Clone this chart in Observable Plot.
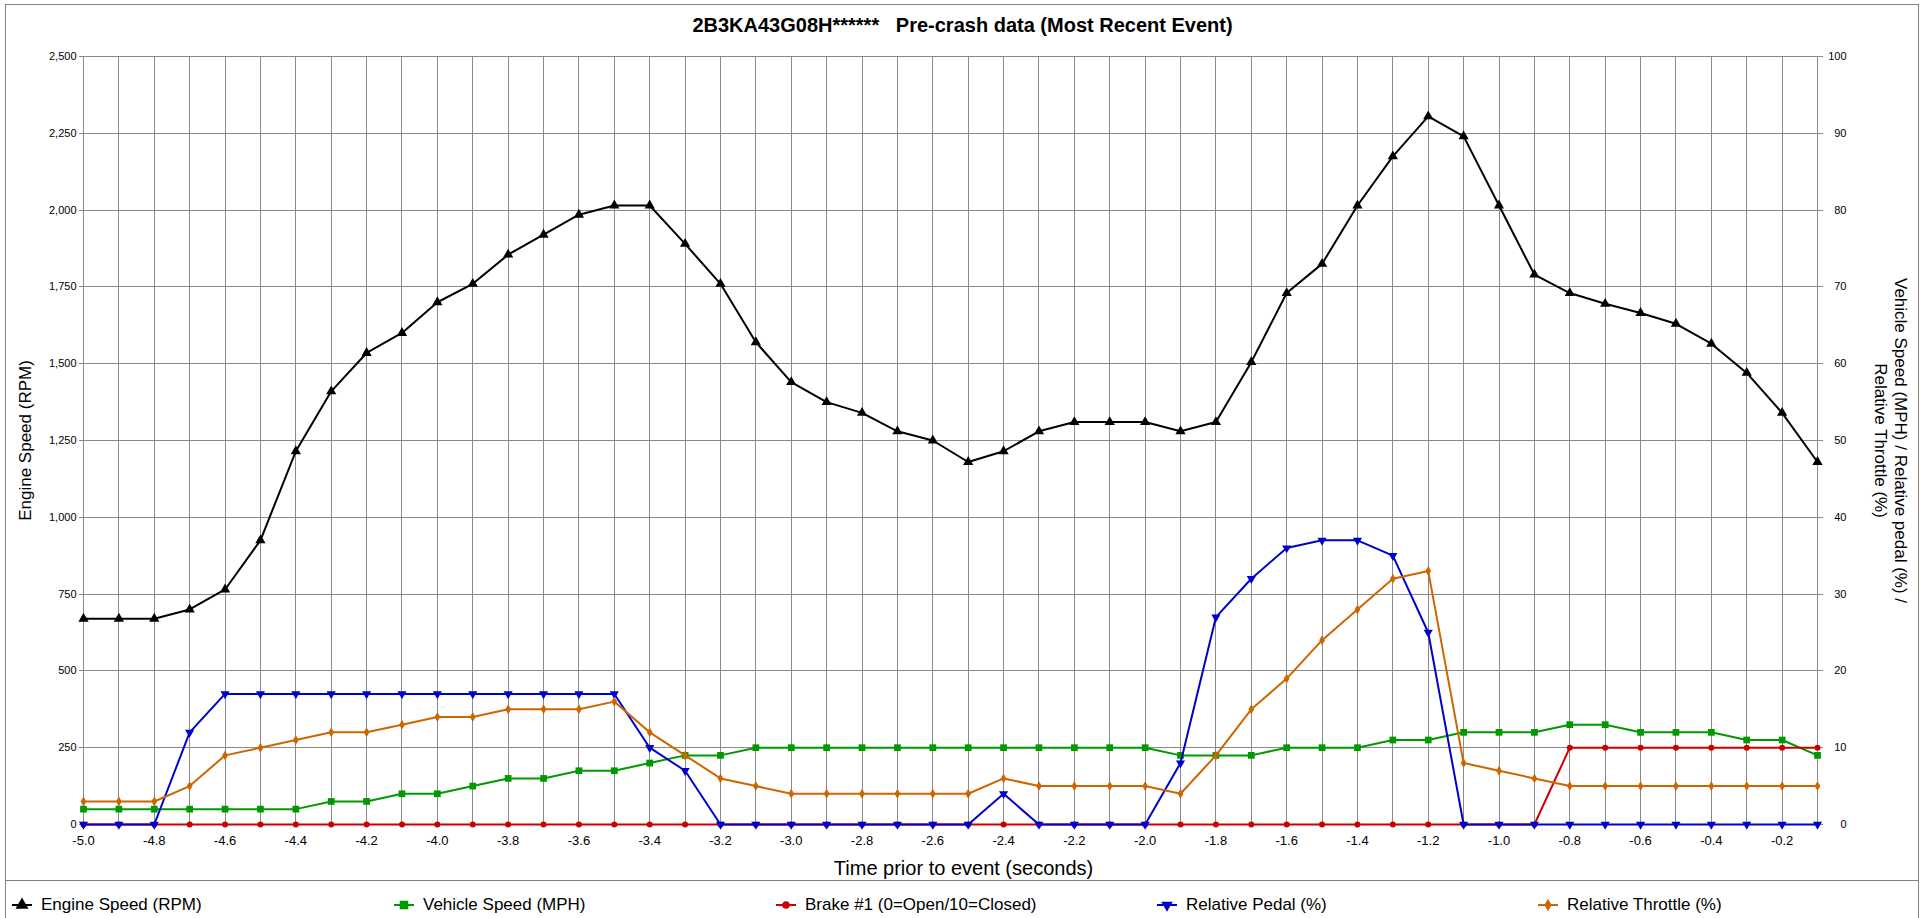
<!DOCTYPE html>
<html><head><meta charset="utf-8">
<script src="https://cdn.jsdelivr.net/npm/d3@7"></script>
<script src="https://cdn.jsdelivr.net/npm/@observablehq/plot@0.6"></script>
<style>
body{margin:0;background:#fff;}
#wrap{position:relative;width:1925px;height:918px;overflow:hidden;font-family:"Liberation Sans",Arial,sans-serif;color:#000;}
#border{position:absolute;left:5px;top:4px;width:1912px;height:960px;border:1px solid #808080;}
#title{position:absolute;left:0;top:13px;width:1925px;text-align:center;font-weight:bold;font-size:20px;line-height:24px;white-space:pre;}
.plot{position:absolute;left:0;top:46px;}
#sep{position:absolute;left:5px;top:880px;width:1913px;height:0;border-top:1px solid #808080;}
.leg{position:absolute;top:895px;height:20px;display:flex;align-items:center;font-size:17px;line-height:20px;white-space:nowrap;}
.leg svg{margin-right:9px;}
</style>
</head><body>
<div id="wrap">
  <div id="border"></div>
  <div id="title">2B3KA43G08H******   Pre-crash data (Most Recent Event)</div>
  <div id="p1" class="plot"></div>
  <div id="p2" class="plot"></div>
  <div id="sep"></div>
  <div id="legend"></div>
</div>
<script>
// ---------- data ----------
const times = [-5.0,-4.9,-4.8,-4.7,-4.6,-4.5,-4.4,-4.3,-4.2,-4.1,
               -4.0,-3.9,-3.8,-3.7,-3.6,-3.5,-3.4,-3.3,-3.2,-3.1,
               -3.0,-2.9,-2.8,-2.7,-2.6,-2.5,-2.4,-2.3,-2.2,-2.1,
               -2.0,-1.9,-1.8,-1.7,-1.6,-1.5,-1.4,-1.3,-1.2,-1.1,
               -1.0,-0.9,-0.8,-0.7,-0.6,-0.5,-0.4,-0.3,-0.2,-0.1];
const engineRpm = [670,670,670,700,765,925,1215,1410,1535,1600,
                   1700,1760,1855,1920,1985,2015,2015,1890,1760,1570,
                   1440,1375,1340,1280,1250,1180,1215,1280,1310,1310,
                   1310,1280,1310,1505,1730,1825,2015,2175,2305,2240,
                   2015,1790,1730,1695,1665,1630,1565,1470,1340,1180];
const vehicleMph = [2,2,2,2,2,2,2,3,3,4,
                    4,5,6,6,7,7,8,9,9,10,
                    10,10,10,10,10,10,10,10,10,10,
                    10,9,9,9,10,10,10,11,11,12,
                    12,12,13,13,12,12,12,11,11,9];
const brake = [0,0,0,0,0,0,0,0,0,0,
               0,0,0,0,0,0,0,0,0,0,
               0,0,0,0,0,0,0,0,0,0,
               0,0,0,0,0,0,0,0,0,0,
               0,0,10,10,10,10,10,10,10,10];
const pedal = [0,0,0,12,17,17,17,17,17,17,
               17,17,17,17,17,17,10,7,0,0,
               0,0,0,0,0,0,4,0,0,0,
               0,8,27,32,36,37,37,35,25,0,
               0,0,0,0,0,0,0,0,0,0];
const throttle = [3,3,3,5,9,10,11,12,12,13,
                  14,14,15,15,15,16,12,9,6,5,
                  4,4,4,4,4,4,6,5,5,5,
                  5,4,9,15,19,24,28,32,33,8,
                  7,6,5,5,5,5,5,5,5,5];
const xTicks = [-5.0,-4.8,-4.6,-4.4,-4.2,-4.0,-3.8,-3.6,-3.4,-3.2,-3.0,-2.8,-2.6,-2.4,-2.2,-2.0,-1.8,-1.6,-1.4,-1.2,-1.0,-0.8,-0.6,-0.4,-0.2];
const leftTicks = [0,250,500,750,1000,1250,1500,1750,2000,2250,2500];
const rightTicks = [0,10,20,30,40,50,60,70,80,90,100];
const seriesNames = ["Engine Speed (RPM)","Vehicle Speed (MPH)","Brake #1 (0=Open/10=Closed)","Relative Pedal (%)","Relative Throttle (%)"];
const seriesColors = ["#000000","#009900","#cc0000","#0000cc","#cc6600"];

// ---------- layout ----------
const W = 1925, H = 834, mL = 83, mR = 108, mT = 10, mB = 56;
const FONT = '"Liberation Sans", Arial, sans-serif';
const baseStyle = {fontFamily: FONT, background: "transparent", overflow: "visible", color: "#000", fontSize: "11px"};
const GRID = "#8a8a8a";

const triDown = {draw(ctx, size){
  const y = Math.sqrt(size / (Math.sqrt(3) * 3));
  ctx.moveTo(0, y * 2); ctx.lineTo(-Math.sqrt(3) * y, -y); ctx.lineTo(Math.sqrt(3) * y, -y); ctx.closePath();
}};
const symbols = ["triangle","square","circle",triDown,"diamond"];
const radii = [3.8,3.8,3,3.4,3];

const p1 = Plot.plot({
  width: W, height: H, marginLeft: mL, marginRight: mR, marginTop: mT, marginBottom: mB,
  style: baseStyle,
  x: {domain: [-5.0, -0.1]},
  y: {domain: [0, 2500]},
  marks: [
    Plot.gridX(times, {stroke: GRID, strokeOpacity: 1, strokeWidth: 1, shapeRendering: "crispEdges"}),
    Plot.gridY(leftTicks, {stroke: GRID, strokeOpacity: 1, strokeWidth: 1, shapeRendering: "crispEdges"}),
    Plot.axisY(leftTicks, {anchor: "left", tickSize: 4, stroke: GRID, tickFormat: () => "", label: null, shapeRendering: "crispEdges"}),
    Plot.axisY(leftTicks, {anchor: "left", tickSize: 0, tickPadding: 7, tickFormat: d3.format(","), label: null, fontSize: 11, fill: "#000"}),
    Plot.axisX(xTicks, {anchor: "bottom", tickSize: 0, tickPadding: 11, tickFormat: d => d.toFixed(1), label: null, fontSize: 13, fill: "#000"}),
    Plot.text(["Time prior to event (seconds)"], {frameAnchor: "bottom", dy: 44, dx: 13, fontSize: 20, textAnchor: "middle", lineAnchor: "middle", fill: "#000"}),
    Plot.text(["Engine Speed (RPM)"], {frameAnchor: "left", dx: -58, rotate: -90, fontSize: 17, textAnchor: "middle", lineAnchor: "middle", fill: "#000"}),
    Plot.text(["Vehicle Speed (MPH) / Relative pedal (%) /"], {frameAnchor: "right", dx: 83, rotate: 90, fontSize: 17, textAnchor: "middle", lineAnchor: "middle", fill: "#000"}),
    Plot.text(["Relative Throttle (%)"], {frameAnchor: "right", dx: 63, rotate: 90, fontSize: 17, textAnchor: "middle", lineAnchor: "middle", fill: "#000"}),
    Plot.line(times, {x: times, y: engineRpm, stroke: seriesColors[0], strokeWidth: 2}),
    Plot.dot(times, {x: times, y: engineRpm, symbol: symbols[0], r: radii[0], fill: seriesColors[0], stroke: "none"})
  ]
});
document.getElementById("p1").append(p1);

const right = [vehicleMph, brake, pedal, throttle];
const marks2 = [
  Plot.axisY(rightTicks, {anchor: "right", tickSize: 5, stroke: GRID, tickFormat: () => "", label: null, shapeRendering: "crispEdges"}),
  Plot.axisY(rightTicks, {anchor: "right", tickSize: 0, tickPadding: 29, textAnchor: "end", tickFormat: d => String(d), label: null, fontSize: 11, fill: "#000"})
];
right.forEach((vals, k) => {
  const i = k + 1;
  marks2.push(Plot.line(times, {x: times, y: vals, stroke: seriesColors[i], strokeWidth: 2}));
  marks2.push(Plot.dot(times, {x: times, y: vals, symbol: symbols[i], r: radii[i], fill: seriesColors[i], stroke: "none"}));
});
const p2 = Plot.plot({
  width: W, height: H, marginLeft: mL, marginRight: mR, marginTop: mT, marginBottom: mB,
  style: baseStyle,
  x: {domain: [-5.0, -0.1], axis: null},
  y: {domain: [0, 100], axis: null},
  marks: marks2
});
document.getElementById("p2").append(p2);

// ---------- legend ----------
const legend = document.getElementById("legend");
const legX = [12, 394, 776, 1157, 1538];
const d3sym = {"triangle": d3.symbolTriangle, "square": d3.symbolSquare, "circle": d3.symbolCircle, "diamond": d3.symbolDiamond};
seriesNames.forEach((name, i) => {
  const div = document.createElement("div");
  div.className = "leg";
  div.style.left = legX[i] + "px";
  const s = symbols[i];
  const size = Math.PI * radii[i] * radii[i] * 1.6;
  const path = d3.symbol(typeof s === "string" ? d3sym[s] : s, size)();
  div.innerHTML = `<svg width="20" height="16" viewBox="0 0 20 16"><line x1="0" x2="20" y1="8" y2="8" stroke="${seriesColors[i]}" stroke-width="2"/><path transform="translate(10,8)" d="${path}" fill="${seriesColors[i]}"/></svg><span>${name}</span>`;
  legend.append(div);
});
</script>
</body></html>
